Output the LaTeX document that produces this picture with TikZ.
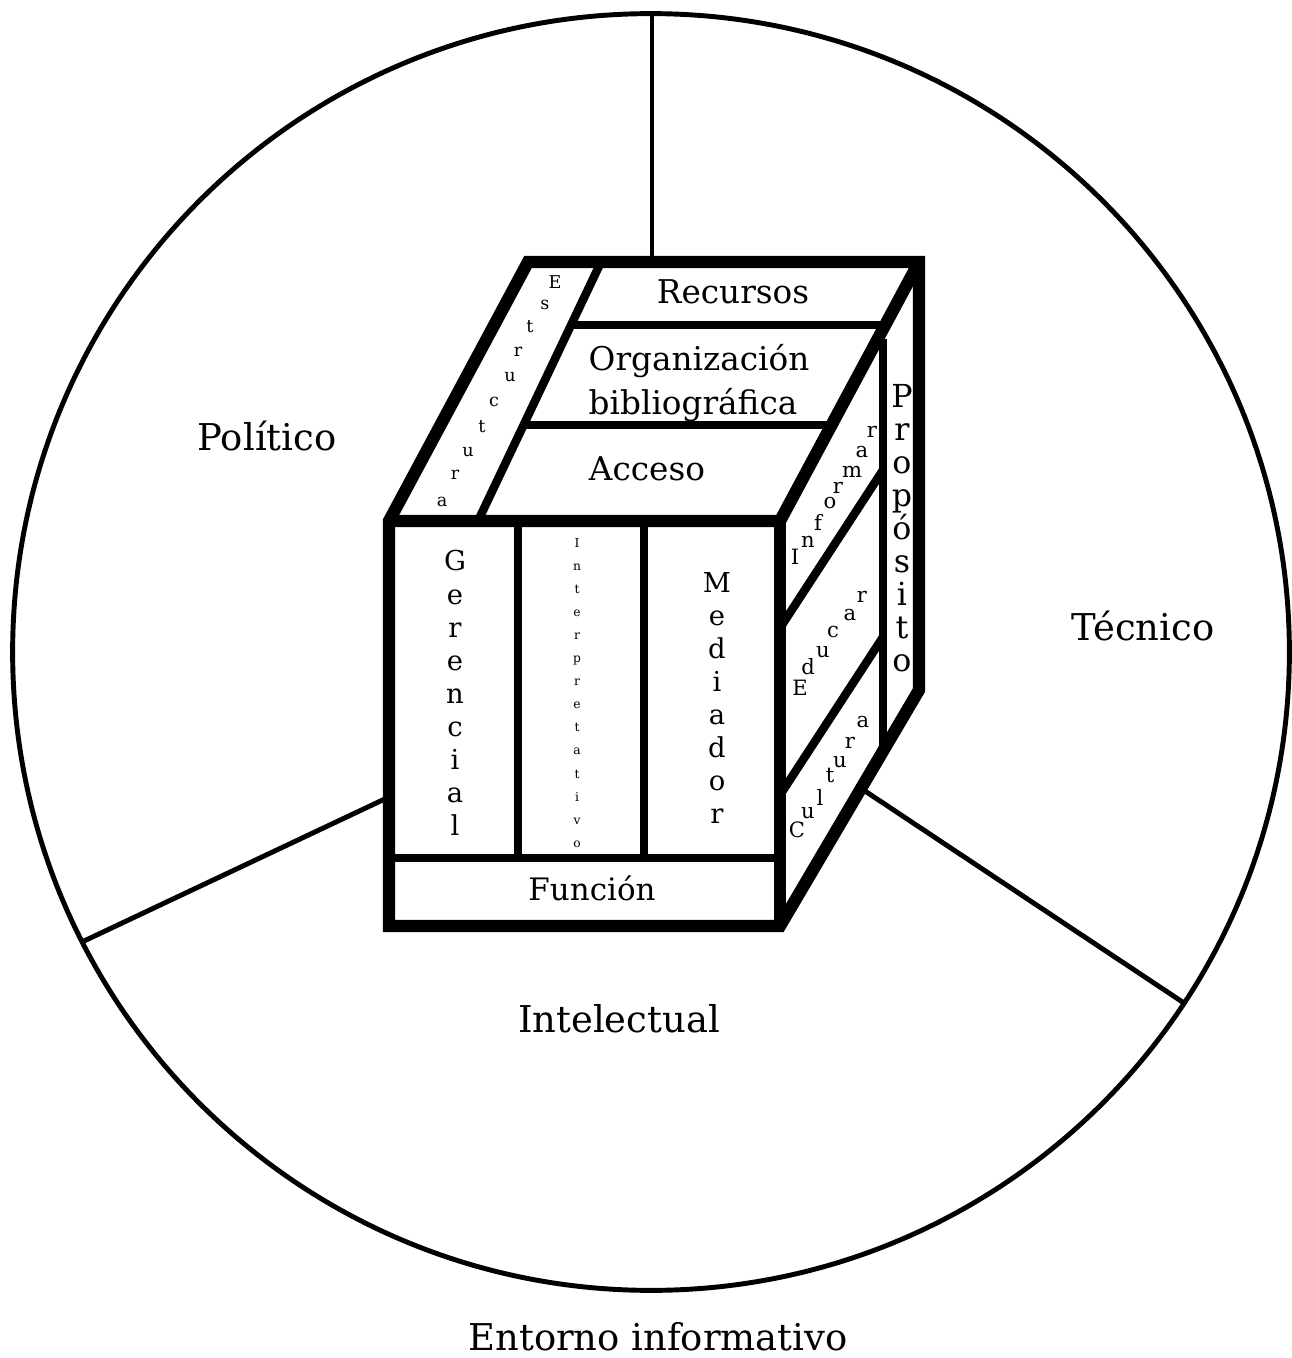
\documentclass[tikz,border=0pt]{standalone}
\usepackage{fontspec}
\setmainfont{DejaVu Serif}
\usetikzlibrary{calc,positioning}
\tikzset{
  ring/.style={line width=1.4pt},
  cubeline/.style={line width=3.5pt},
  divline/.style={line width=2.4pt},
  lbl/.style={inner sep=0pt,anchor=base,font=\fontsize{10.5}{12}\selectfont},
  facelbl/.style={inner sep=0pt,anchor=base,font=\fontsize{9.3}{12.5}\selectfont},
  vstack/.style={inner sep=0pt,align=center,font=\fontsize{#1}{9.4}\selectfont},
  ltr/.style={inner sep=0pt,font=\fontsize{#1}{#1}\selectfont},
}

\begin{document}
\begin{tikzpicture}[x=0.01cm,y=-0.01cm]
\useasboundingbox[fill=white] (0,0) rectangle (1291,1358);
% entorno
\coordinate (ctr) at (651,652);
\draw[ring] (ctr) circle[radius=6.38cm];
\coordinate (rimtop) at (652,14);
\coordinate (rimleft) at (84,941);
\coordinate (rimright) at (1184,1003);
\coordinate (hubtop) at (652,262);
\coordinate (hubleft) at (389,797);
\coordinate (hubright) at (862,789);
\draw[ring] (rimtop) -- (hubtop);
\draw[ring] (rimleft) -- (hubleft);
\draw[ring] (rimright) -- (hubright);
\node[lbl] (pol) at (267,450) {Político};
\node[lbl] (tec) at (1143,640) {Técnico};
\node[lbl] (intel) at (619,1032) {Intelectual};
\node[lbl] (entorno) at (658,1350) {Entorno informativo};
% cubo
\coordinate (ftl) at (389,521);
\coordinate (ftr) at (780,521);
\coordinate (fbr) at (780,926);
\coordinate (fbl) at (389,926);
\coordinate (btl) at (528,262);
\coordinate (btr) at (919,262);
\coordinate (bbr) at (919,690);
\fill[white] (ftl) -- (btl) -- (btr) -- (bbr) -- (fbr) -- (fbl) -- cycle;
\draw[divline] (389,858) -- (780,858);
\draw[divline] (518,521) -- (518,858);
\draw[divline] (644,521) -- (644,858);
\draw[divline] (478,521) -- (601,262);
\draw[divline] (571,325) -- (885,325);
\draw[divline] (524,425) -- (831,425);
\draw[divline] (877,343) -- (883,343) -- (883,752);
\draw[divline] (780,628) -- (883,470);
\draw[divline] (780,795) -- (883,637);
\draw[cubeline] (ftl) -- (btl) -- (btr) -- (bbr) -- (fbr) -- (fbl) -- cycle;
\draw[cubeline] (ftl) -- (ftr) -- (btr);
\draw[cubeline] (ftr) -- (fbr);
% cara superior
\node[facelbl] (recursos) at (733,304) {Recursos};
\node[inner sep=0pt,anchor=west,align=left,font=\fontsize{9.3}{12.5}\selectfont] (orgbib) at (588,383) {Organización\\bibliográfica};
\node[facelbl] (acceso) at (647,480) {Acceso};
\node[ltr=5] (est1) at (555,282) {E}; \node[ltr=5] (est2) at (545,305) {s};
\node[ltr=5] (est3) at (530,327) {t}; \node[ltr=5] (est4) at (518,352) {r};
\node[ltr=5] (est5) at (510,377) {u}; \node[ltr=5] (est6) at (494,402) {c};
\node[ltr=5] (est7) at (482,427) {t}; \node[ltr=5] (est8) at (468,452) {u};
\node[ltr=5] (est9) at (455,475) {r}; \node[ltr=5] (est10) at (442,502) {a};
% cara frontal
\node[vstack=7.8] (geren) at (455,693) {G\\e\\r\\e\\n\\c\\i\\a\\l};
\node[vstack=3.5,font=\fontsize{3.5}{6.55}\selectfont] (interp) at (577,693) {I\\n\\t\\e\\r\\p\\r\\e\\t\\a\\t\\i\\v\\o};
\node[vstack=7.8] (medi) at (717,698) {M\\e\\d\\i\\a\\d\\o\\r};
\node[facelbl,font=\fontsize{8.8}{10}\selectfont] (funcion) at (592,900) {Función};
% cara lateral
\node[vstack=9] (propo) at (902,528) {P\\r\\o\\p\\ó\\s\\i\\t\\o};
\node[ltr=6] (inf1) at (795,557) {I}; \node[ltr=6] (inf2) at (808,542) {n};
\node[ltr=6] (inf3) at (818,522) {f}; \node[ltr=6] (inf4) at (830,503) {o};
\node[ltr=6] (inf5) at (838,488) {r}; \node[ltr=6] (inf6) at (852,472) {m};
\node[ltr=6] (inf7) at (862,452) {a}; \node[ltr=6] (inf8) at (872,432) {r};
\node[ltr=6] (edu1) at (800,688) {E}; \node[ltr=6] (edu2) at (808,667) {d};
\node[ltr=6] (edu3) at (823,652) {u}; \node[ltr=6] (edu4) at (833,632) {c};
\node[ltr=6] (edu5) at (850,615) {a}; \node[ltr=6] (edu6) at (862,597) {r};
\node[ltr=6] (cul1) at (797,830) {C}; \node[ltr=6] (cul2) at (808,813) {u};
\node[ltr=6] (cul3) at (820,797) {l}; \node[ltr=6] (cul4) at (830,775) {t};
\node[ltr=6] (cul5) at (840,762) {u}; \node[ltr=6] (cul6) at (850,743) {r};
\node[ltr=6] (cul7) at (863,722) {a};
\end{tikzpicture}
\end{document}
